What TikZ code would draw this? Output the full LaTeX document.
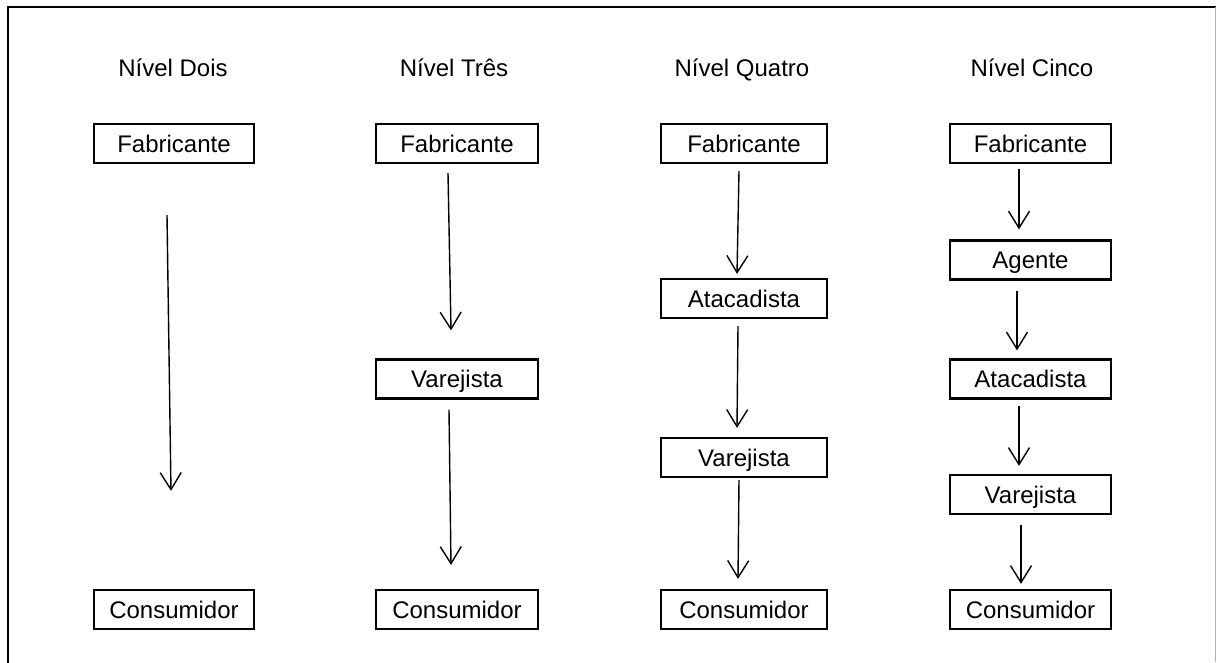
\documentclass[tikz,border=0pt]{standalone}
\usepackage{fontspec}
\setmainfont{Liberation Sans}
\usetikzlibrary{arrows.meta}
\tikzset{
  lbl/.style={font=\fontsize{24}{28}\selectfont, inner sep=0pt, text height=17pt, text depth=0pt},
  box/.style={draw, line width=2.2pt, minimum height=39pt, inner sep=0pt, text height=17pt, text depth=0pt, font=\fontsize{24}{28}\selectfont},
  arr/.style={line width=1.4pt, -{Straight Barb[length=17pt,width=21pt,line width=1.4pt]}}
}
\begin{document}
\begin{tikzpicture}[x=1pt,y=-1pt]
\useasboundingbox (0,0) rectangle (1216,662);
% frame
\draw[line width=2.5pt] (8,670) -- (8,7) -- (1216,7);
\draw[line width=1pt, black!30] (1215,7) -- (1215,662);
% titles
\node[lbl] (t1) at (173,68) {Nível Dois};
\node[lbl] (t2) at (454,68) {Nível Três};
\node[lbl] (t3) at (742,68) {Nível Quatro};
\node[lbl] (t4) at (1032,68) {Nível Cinco};
% column 1
\node[box, minimum width=160pt] (f1) at (174,143.5) {Fabricante};
\node[box, minimum width=160pt] (c1) at (174,609.5) {Consumidor};
\draw[arr] ([xshift=-7pt,yshift=-51pt]f1.south) -- ([xshift=-3pt,yshift=98pt]c1.north);
% column 2
\node[box, minimum width=162pt] (f2) at (457,143.5) {Fabricante};
\node[box, minimum width=162pt] (v2) at (457,379) {Varejista};
\node[box, minimum width=162pt] (c2) at (457,609.5) {Consumidor};
\draw[arr] ([xshift=-9pt,yshift=-9pt]f2.south) -- ([xshift=-6pt,yshift=28pt]v2.north);
\draw[arr] ([xshift=-8pt,yshift=-10pt]v2.south) -- ([xshift=-6pt,yshift=24pt]c2.north);
% column 3
\node[box, minimum width=166pt] (f3) at (744,143.5) {Fabricante};
\node[box, minimum width=166pt] (a3) at (744,298.5) {Atacadista};
\node[box, minimum width=166pt] (v3) at (744,457.5) {Varejista};
\node[box, minimum width=166pt] (c3) at (744,609.5) {Consumidor};
\draw[arr] ([xshift=-5pt,yshift=-7pt]f3.south) -- ([xshift=-7pt,yshift=4pt]a3.north);
\draw[arr] ([xshift=-6pt,yshift=-7pt]a3.south) -- ([xshift=-7pt,yshift=9pt]v3.north);
\draw[arr] ([xshift=-5pt,yshift=-2pt]v3.south) -- ([xshift=-6pt,yshift=10pt]c3.north);
% column 4
\node[box, minimum width=161pt] (f4) at (1030.5,143.5) {Fabricante};
\node[box, minimum width=161pt] (g4) at (1030.5,260) {Agente};
\node[box, minimum width=161pt] (a4) at (1030.5,379) {Atacadista};
\node[box, minimum width=161pt] (v4) at (1030.5,494.5) {Varejista};
\node[box, minimum width=161pt] (c4) at (1030.5,609.5) {Consumidor};
\draw[arr] ([xshift=-11.5pt,yshift=-5pt]f4.south) -- ([xshift=-11.5pt,yshift=10pt]g4.north);
\draw[arr] ([xshift=-13.5pt,yshift=-10pt]g4.south) -- ([xshift=-13.5pt,yshift=8pt]a4.north);
\draw[arr] ([xshift=-11.5pt,yshift=-6pt]a4.south) -- ([xshift=-11.5pt,yshift=8pt]v4.north);
\draw[arr] ([xshift=-9.5pt,yshift=-10pt]v4.south) -- ([xshift=-9.5pt,yshift=5pt]c4.north);
\end{tikzpicture}
\end{document}
